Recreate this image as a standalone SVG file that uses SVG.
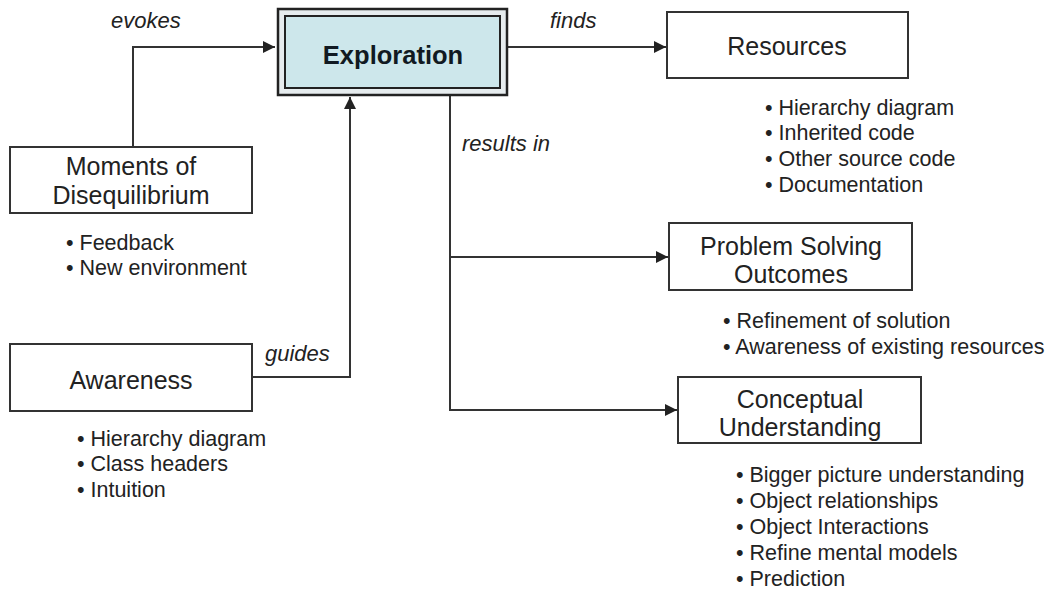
<svg xmlns="http://www.w3.org/2000/svg" width="1055" height="592" viewBox="0 0 1055 592">
  <style>
    .box { fill: #ffffff; stroke: #333333; stroke-width: 2; }
    .label { font-family: "Liberation Sans", Arial, sans-serif; font-size: 25px; fill: #222222; text-anchor: middle; }
    .title { font-family: "Liberation Sans", Arial, sans-serif; font-size: 25.5px; font-weight: bold; fill: #111a22; text-anchor: middle; }
    .bullet { font-family: "Liberation Sans", Arial, sans-serif; font-size: 21.5px; fill: #222222; }
    .verb { font-family: "Liberation Sans", Arial, sans-serif; font-size: 22px; font-style: italic; fill: #222222; }
    .conn { fill: none; stroke: #333333; stroke-width: 2; }
  </style>
  <defs>
    <marker id="arrow" viewBox="0 0 10 10" refX="10" refY="5" markerWidth="6" markerHeight="6" orient="auto" markerUnits="strokeWidth">
      <path d="M0,0 L10,5 L0,10 z" fill="#222222"/>
    </marker>
  </defs>

  <rect width="1055" height="592" fill="#ffffff"/>

  <!-- connectors -->
  <g id="connectors">
    <path class="conn" d="M133,147 V47 H275" marker-end="url(#arrow)"/>
    <text class="verb" x="111" y="28">evokes</text>
    <path class="conn" d="M507,47 H666" marker-end="url(#arrow)"/>
    <text class="verb" x="550" y="28">finds</text>
    <path class="conn" d="M252,377 H350 V97" marker-end="url(#arrow)"/>
    <text class="verb" x="265" y="361">guides</text>
    <path class="conn" d="M450,95 V410 H677" marker-end="url(#arrow)"/>
    <path class="conn" d="M450,257 H668" marker-end="url(#arrow)"/>
    <text class="verb" x="462" y="151">results in</text>
  </g>

  <!-- central node with a triple frame -->
  <g id="exploration">
    <rect x="278" y="9" width="229" height="86" fill="#e6ecee" stroke="#222222" stroke-width="2.5"/>
    <rect x="285" y="16" width="215" height="72" fill="#cde7eb" stroke="#222222" stroke-width="2"/>
    <text class="title" x="393" y="64">Exploration</text>
  </g>

  <g id="moments">
    <rect class="box" x="10" y="147" width="242" height="66"/>
    <text class="label" x="131" y="175">Moments of</text>
    <text class="label" x="131" y="204">Disequilibrium</text>
    <text class="bullet" x="66" y="250">• Feedback</text>
    <text class="bullet" x="66" y="275">• New environment</text>
  </g>

  <g id="awareness">
    <rect class="box" x="10" y="344" width="242" height="67"/>
    <text class="label" x="131" y="389">Awareness</text>
    <text class="bullet" x="77" y="446">• Hierarchy diagram</text>
    <text class="bullet" x="77" y="471">• Class headers</text>
    <text class="bullet" x="77" y="497">• Intuition</text>
  </g>

  <g id="resources">
    <rect class="box" x="667" y="12" width="241" height="66"/>
    <text class="label" x="787" y="55">Resources</text>
    <text class="bullet" x="765" y="115">• Hierarchy diagram</text>
    <text class="bullet" x="765" y="140">• Inherited code</text>
    <text class="bullet" x="765" y="166">• Other source code</text>
    <text class="bullet" x="765" y="192">• Documentation</text>
  </g>

  <g id="problem-solving">
    <rect class="box" x="669" y="223" width="243" height="67"/>
    <text class="label" x="791" y="255">Problem Solving</text>
    <text class="label" x="791" y="283">Outcomes</text>
    <text class="bullet" x="723" y="328">• Refinement of solution</text>
    <text class="bullet" x="723" y="354">• Awareness of existing resources</text>
  </g>

  <g id="conceptual">
    <rect class="box" x="678" y="377" width="243" height="66"/>
    <text class="label" x="800" y="408">Conceptual</text>
    <text class="label" x="800" y="436">Understanding</text>
    <text class="bullet" x="736" y="482">• Bigger picture understanding</text>
    <text class="bullet" x="736" y="508">• Object relationships</text>
    <text class="bullet" x="736" y="534">• Object Interactions</text>
    <text class="bullet" x="736" y="560">• Refine mental models</text>
    <text class="bullet" x="736" y="586">• Prediction</text>
  </g>
</svg>
